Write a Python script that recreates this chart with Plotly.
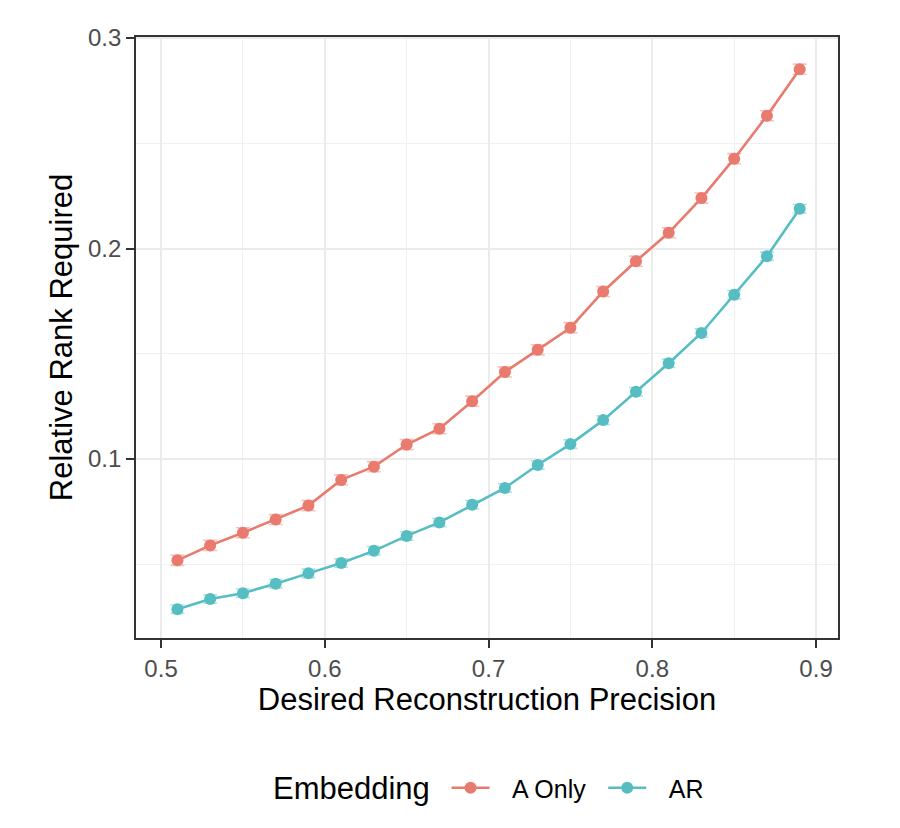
import plotly.graph_objects as go

precision = [0.51, 0.53, 0.55, 0.57, 0.59, 0.61, 0.63, 0.65, 0.67, 0.69,
             0.71, 0.73, 0.75, 0.77, 0.79, 0.81, 0.83, 0.85, 0.87, 0.89]
a_only = [0.0519, 0.0590, 0.0650, 0.0713, 0.0779, 0.0901, 0.0964, 0.1069, 0.1144, 0.1275,
          0.1414, 0.1519, 0.1624, 0.1796, 0.1940, 0.2075, 0.2240, 0.2427, 0.2631, 0.2852]
ar = [0.0287, 0.0335, 0.0363, 0.0408, 0.0457, 0.0506, 0.0564, 0.0635, 0.0699, 0.0783,
      0.0863, 0.0972, 0.1071, 0.1185, 0.1320, 0.1455, 0.1599, 0.1781, 0.1963, 0.2189]
a_only_err = [0.0024] * 20
ar_err = [0.0020] * 20
series_names = ["A Only", "AR"]
legend_title = "Embedding"
x_ticks = [0.5, 0.6, 0.7, 0.8, 0.9]
y_ticks = [0.1, 0.2, 0.3]

colors = ["rgb(232,122,110)", "rgb(86,190,195)"]
err_colors = ["rgba(232,122,110,0.45)", "rgba(86,190,195,0.45)"]

FONT = "Liberation Sans, Arial, sans-serif"
PAD = "\u2002\u2009"
TRAIL = ["\u2002", ""]

fig = go.Figure()
for name, vals, errs, c, ec, tr in zip(series_names, [a_only, ar], [a_only_err, ar_err], colors, err_colors, TRAIL):
    fig.add_trace(go.Scatter(
        x=precision, y=vals, name=PAD + name + tr, mode="lines+markers",
        line=dict(color=c, width=2.6),
        marker=dict(color=c, size=12),
        error_y=dict(type="data", array=errs, visible=True, color=ec, thickness=1.6, width=7),
        hovertemplate=name + ": %{x}, %{y}<extra></extra>",
    ))

axis_common = dict(
    showline=True, linecolor="#333333", linewidth=1.6, mirror=True,
    ticks="outside", ticklen=8, tickcolor="#333333", tickwidth=1.6,
    showgrid=True, gridcolor="#EBEBEB", gridwidth=2, zeroline=False,
    tickfont=dict(family=FONT, size=24, color="#4D4D4D"),
    title_font=dict(family=FONT, size=31, color="#000000"),
)

fig.update_xaxes(
    title_text="Desired Reconstruction Precision",
    range=[0.4847, 0.9134], tickvals=x_ticks, ticktext=[str(v) for v in x_ticks],
    minor=dict(dtick=0.05, tick0=0.5, showgrid=True, gridcolor="#F0F0F0", gridwidth=1, ticks=""),
    title_standoff=0,
    **axis_common,
)
fig.update_yaxes(
    title_text="Relative Rank Required",
    range=[0.015, 0.3005], tickvals=y_ticks, ticktext=[str(v) for v in y_ticks],
    minor=dict(dtick=0.05, tick0=0.05, showgrid=True, gridcolor="#F0F0F0", gridwidth=1, ticks=""),
    title_standoff=6,
    **axis_common,
)

fig.add_annotation(
    text=legend_title, xref="paper", yref="paper", x=0.192, y=-0.2496,
    xanchor="left", yanchor="middle", showarrow=False,
    font=dict(family=FONT, size=31, color="#000000"),
)

fig.update_layout(
    width=900, height=828,
    margin=dict(l=128, r=70, t=29, b=198),
    paper_bgcolor="white", plot_bgcolor="white",
    font=dict(family=FONT, color="#000000"),
    showlegend=True,
    legend=dict(
        orientation="h", x=0.629, xanchor="center", y=-0.2496, yanchor="middle",
        font=dict(size=25, color="#000000"),
        itemwidth=38,
    ),
)

fig.write_html("out.html")
